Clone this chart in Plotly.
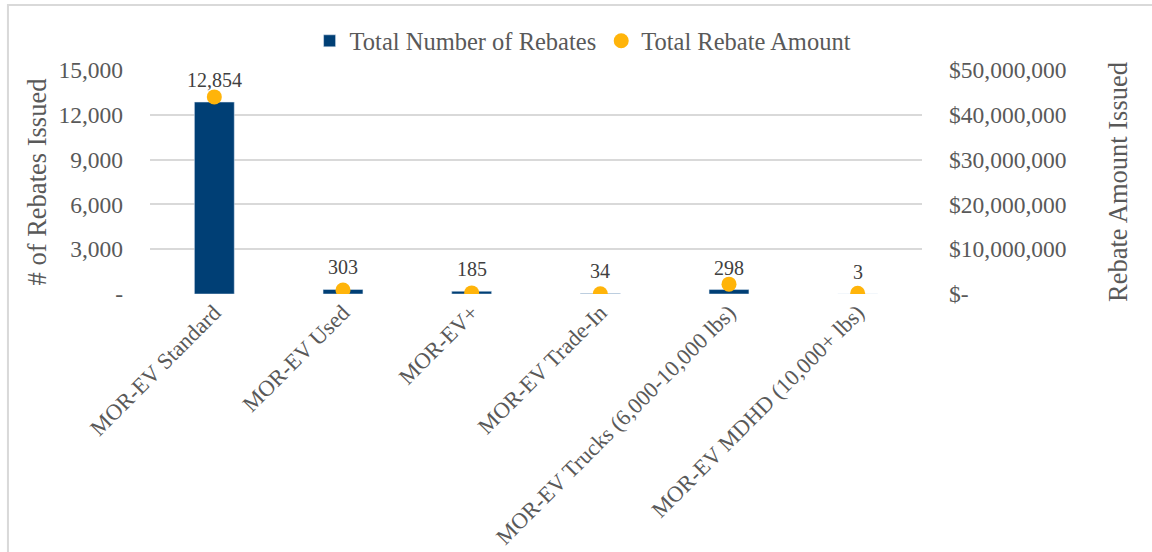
import plotly.graph_objects as go

categories = ["MOR-EV Standard", "MOR-EV Used", "MOR-EV+", "MOR-EV Trade-In",
              "MOR-EV Trucks (6,000-10,000 lbs)", "MOR-EV MDHD (10,000+ lbs)"]
rebate_counts = [12854, 303, 185, 34, 298, 3]
rebate_amounts = [44000000, 900000, 250000, 40000, 2200000, 150000]

left_ticks = [0, 3000, 6000, 9000, 12000, 15000]
left_ticktext = ["-", "3,000", "6,000", "9,000", "12,000", "15,000"]
right_ticks = [0, 10000000, 20000000, 30000000, 40000000, 50000000]
right_ticktext = ["$-", "$10,000,000", "$20,000,000", "$30,000,000", "$40,000,000", "$50,000,000"]

FONT = "Liberation Serif, Times New Roman, serif"
GRAY = "#595959"
BAR = "#003F75"
GOLD = "#FFB40A"

fig = go.Figure()
fig.add_trace(go.Bar(x=categories, y=rebate_counts, name="Total Number of Rebates",
                     marker=dict(color=BAR), yaxis="y"))
fig.add_trace(go.Scatter(x=categories, y=rebate_amounts, name="Total Rebate Amount",
                         mode="markers", marker=dict(color=GOLD, size=15), yaxis="y2"))

for c, v in zip(categories, rebate_counts):
    fig.add_annotation(x=c, y=v, yref="y", text=f"{v:,}", showarrow=False,
                       yshift=22, font=dict(family=FONT, size=20, color="#404040"))

fig.update_layout(
    width=1152, height=552,
    margin=dict(l=150, r=230, t=70, b=258),
    paper_bgcolor="white", plot_bgcolor="white",
    font=dict(family=FONT, color=GRAY),
    bargap=0.69,
    showlegend=True,
    legend=dict(orientation="h", x=0.561, xanchor="center", y=1.13, yanchor="middle",
                font=dict(family=FONT, size=24.5, color=GRAY), itemwidth=30,
                traceorder="normal"),
    xaxis=dict(tickangle=-45, tickfont=dict(family=FONT, size=22.5, color=GRAY),
               showgrid=False, showline=False, ticks="", automargin=False),
    yaxis=dict(range=[0, 15000], tickvals=left_ticks, ticktext=left_ticktext,
               tickfont=dict(family=FONT, size=23.5, color=GRAY),
               gridcolor="#D9D9D9", gridwidth=1.5, zeroline=False,
               ticklabelstandoff=26, automargin=False,
               title=dict(text="# of Rebates Issued", font=dict(family=FONT, size=26.5, color=GRAY),
                          standoff=4)),
    yaxis2=dict(range=[0, 50000000], tickvals=right_ticks, ticktext=right_ticktext,
                overlaying="y", side="right", showgrid=False, zeroline=False,
                tickfont=dict(family=FONT, size=23.5, color=GRAY),
                ticklabelstandoff=26, automargin=False,
                title=dict(text="Rebate Amount Issued", font=dict(family=FONT, size=26.5, color=GRAY),
                           standoff=42)),
    shapes=[dict(type="rect", xref="paper", yref="paper", x0=-0.184, x1=1.31, y0=-1.2, y1=1.29,
                 line=dict(color="#D9D9D9", width=2), fillcolor="rgba(0,0,0,0)")],
)

fig.write_html("out.html", config={"displayModeBar": False},
               post_script="document.body.style.margin='0';")
